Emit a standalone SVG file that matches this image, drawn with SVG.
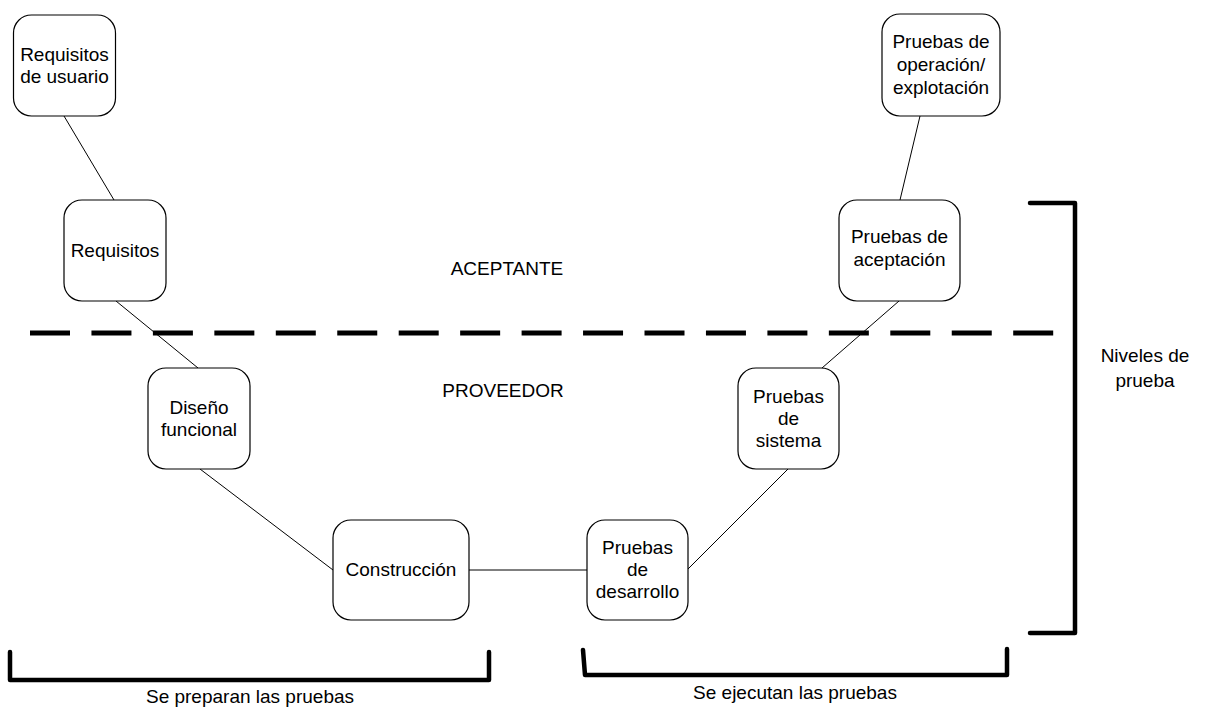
<svg xmlns="http://www.w3.org/2000/svg" width="1209" height="707" viewBox="0 0 1209 707">
<style>
.node rect{fill:#fff;stroke:#000;stroke-width:1.2}
text{font-family:"Liberation Sans",Arial,sans-serif;font-size:19px;fill:#000}
.c{text-anchor:middle}
.conn line{stroke:#000;stroke-width:1}
.br{fill:none;stroke:#000;stroke-width:4.5;stroke-linejoin:round;stroke-linecap:round}
</style>
<rect width="1209" height="707" fill="#fff"/>
<g class="conn">
<line x1="64" y1="116" x2="114" y2="200"/>
<line x1="116" y1="301" x2="198" y2="368"/>
<line x1="200" y1="469" x2="333" y2="570"/>
<line x1="469" y1="570" x2="587" y2="570"/>
<line x1="688" y1="569" x2="788" y2="469"/>
<line x1="822" y1="368" x2="899" y2="301"/>
<line x1="920" y1="116" x2="900" y2="200"/>
</g>
<line x1="30" y1="333" x2="1056" y2="333" stroke="#000" stroke-width="5" stroke-dasharray="40 21.45"/>
<g id="n1" class="node"><rect x="13.5" y="15" width="102" height="101" rx="18"/><text class="c" x="64.5" y="61">Requisitos</text><text class="c" x="64.5" y="83">de usuario</text></g>
<g id="n2" class="node"><rect x="64" y="200" width="102" height="101" rx="18"/><text class="c" x="115" y="257">Requisitos</text></g>
<g id="n3" class="node"><rect x="148" y="368" width="102" height="101" rx="18"/><text class="c" x="199" y="414">Diseño</text><text class="c" x="199" y="436">funcional</text></g>
<g id="n4" class="node"><rect x="333" y="520" width="136" height="100" rx="18"/><text class="c" x="401" y="576">Construcción</text></g>
<g id="n5" class="node"><rect x="587" y="520" width="101" height="100" rx="18"/><text class="c" x="637.5" y="554">Pruebas</text><text class="c" x="637.5" y="576">de</text><text class="c" x="637.5" y="598">desarrollo</text></g>
<g id="n6" class="node"><rect x="738" y="368" width="101" height="101" rx="18"/><text class="c" x="788.5" y="403">Pruebas</text><text class="c" x="788.5" y="425">de</text><text class="c" x="788.5" y="447">sistema</text></g>
<g id="n7" class="node"><rect x="839" y="200" width="121" height="101" rx="18"/><text class="c" x="899.5" y="243">Pruebas de</text><text class="c" x="899.5" y="266">aceptación</text></g>
<g id="n8" class="node"><rect x="882" y="14" width="118" height="102" rx="18"/><text class="c" x="941" y="48">Pruebas de</text><text class="c" x="941" y="71">operación/</text><text class="c" x="941" y="94">explotación</text></g>
<text class="c" x="507" y="275">ACEPTANTE</text>
<text class="c" x="503" y="397">PROVEEDOR</text>
<path class="br" d="M1030 203 H1075 V633 H1030"/>
<text class="c" x="1145" y="362">Niveles de</text>
<text class="c" x="1145" y="387">prueba</text>
<path class="br" d="M10 652 V680 H489 V652"/>
<text class="c" x="250" y="703">Se preparan las pruebas</text>
<path class="br" d="M583 650 L585 675 H1007 V649"/>
<text class="c" x="795" y="699">Se ejecutan las pruebas</text>
</svg>
